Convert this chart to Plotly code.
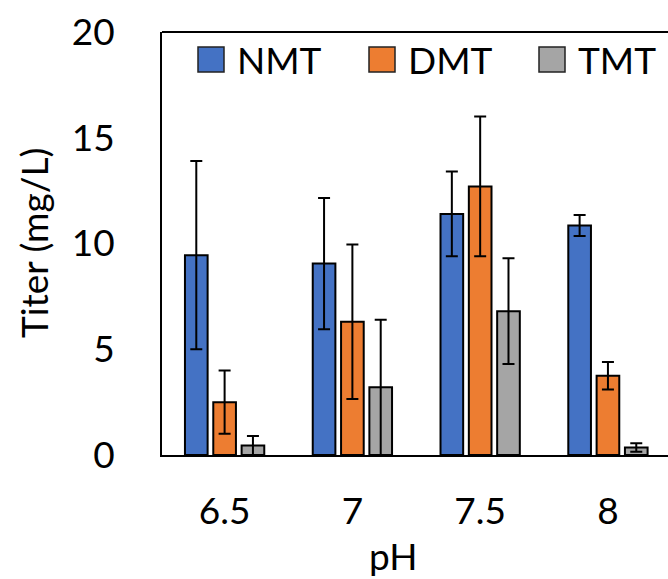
import plotly.graph_objects as go

categories = ["6.5", "7", "7.5", "8"]
series_names = ["NMT", "DMT", "TMT"]
nmt = [9.45, 9.05, 11.4, 10.85]
nmt_err = [4.45, 3.1, 2.0, 0.5]
dmt = [2.5, 6.3, 12.7, 3.75]
dmt_err = [1.5, 3.65, 3.3, 0.65]
tmt = [0.45, 3.2, 6.8, 0.35]
tmt_err = [0.45, 3.2, 2.5, 0.2]
colors = ["#4472C4", "#ED7D31", "#A5A5A5"]
y_ticks = [0, 5, 10, 15, 20]

W, H = 668, 579
L, R, T, B = 162, 0, 32, 124
PW = W - L - R
PH = H - T - B
FONT = "Lato"
FS = 37

def px_x(x):
    return (x - L) / PW

def px_y(y):
    return (H - B - y) / PH

fig = go.Figure()
for name, vals, errs, col in zip(series_names, [nmt, dmt, tmt], [nmt_err, dmt_err, tmt_err], colors):
    fig.add_trace(go.Bar(
        x=categories, y=vals, name=name,
        marker=dict(color=col, line=dict(color="black", width=2)),
        error_y=dict(type="data", array=errs, visible=True, color="black", thickness=2, width=6),
        showlegend=False,
    ))

shapes = [dict(type="line", xref="paper", yref="paper", x0=0, x1=1, y0=1, y1=1,
               line=dict(color="black", width=2))]
annotations = []
leg_sq_x = [198, 369, 539]
leg_txt_x = [237, 408, 578]
for name, col, sx, tx in zip(series_names, colors, leg_sq_x, leg_txt_x):
    shapes.append(dict(type="rect", xref="paper", yref="paper",
                       x0=px_x(sx), x1=px_x(sx + 26), y0=px_y(72), y1=px_y(47),
                       fillcolor=col, line=dict(color="#222222", width=1.5)))
    annotations.append(dict(text=name, xref="paper", yref="paper", x=px_x(tx - 2), y=px_y(60),
                            xanchor="left", yanchor="middle", showarrow=False,
                            font=dict(family=FONT, size=FS, color="black")))

annotations.append(dict(text="Titer (mg/L)", xref="paper", yref="paper", x=px_x(33), y=px_y(243),
                        textangle=-90, xanchor="center", yanchor="middle", showarrow=False,
                        font=dict(family=FONT, size=FS, color="black")))
annotations.append(dict(text="pH", xref="paper", yref="paper", x=px_x(393), y=px_y(555),
                        xanchor="center", yanchor="middle", showarrow=False,
                        font=dict(family=FONT, size=FS, color="black")))

fig.update_layout(
    width=W, height=H,
    margin=dict(l=L, r=R, t=T, b=B, pad=0),
    plot_bgcolor="white", paper_bgcolor="white",
    barmode="group", bargap=0.335, bargroupgap=0.2,
    font=dict(family=FONT, size=FS, color="black"),
    shapes=shapes, annotations=annotations,
    xaxis=dict(type="category", range=[-0.49, 3.47], showline=True, linecolor="black", linewidth=2,
               ticks="", showgrid=False, ticklabelstandoff=23,
               tickfont=dict(family=FONT, size=FS, color="black")),
    yaxis=dict(range=[0, 20], tickvals=y_ticks, showline=True, linecolor="black", linewidth=2,
               ticks="", showgrid=False, zeroline=False, ticklabelstandoff=38,
               tickfont=dict(family=FONT, size=FS, color="black")),
)

fig.write_html("out.html", config={"displayModeBar": False},
               post_script="document.body.style.margin='0';document.body.style.overflow='hidden';")
